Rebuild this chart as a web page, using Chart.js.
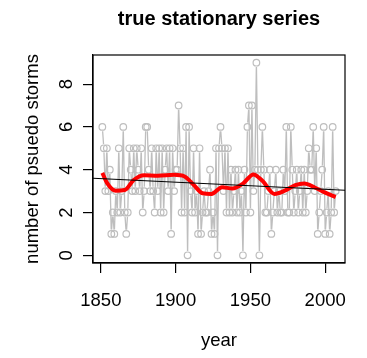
<!DOCTYPE html>
<html>
<head>
<meta charset="utf-8">
<title>true stationary series</title>
<script src="https://cdn.jsdelivr.net/npm/chart.js@4.4.1/dist/chart.umd.min.js"></script>
<style>
  html, body { margin: 0; padding: 0; background: #fff; }
  canvas { display: block; }
</style>
</head>
<body>
<canvas id="storms" width="367" height="358"></canvas>
<script>
// yearly counts of pseudo storms, 1851-2007
const firstYear = 1851;
const stormCounts = [
  6, 5, 3, 5, 3, 4, 1, 2, 1, 3,
  2, 5, 2, 3, 6, 2, 1, 2, 5, 4,
  3, 5, 3, 5, 4, 3, 5, 2, 3, 6,
  6, 4, 3, 5, 3, 2, 5, 3, 5, 2,
  5, 2, 4, 5, 3, 5, 1, 5, 3, 4,
  4, 7, 5, 2, 5, 2, 6, 0, 6, 3,
  2, 5, 2, 3, 1, 5, 1, 2, 3, 2,
  2, 3, 4, 1, 2, 1, 5, 0, 5, 6,
  5, 3, 5, 2, 5, 2, 4, 2, 3, 4,
  2, 4, 2, 3, 0, 4, 2, 6, 7, 2,
  7, 3, 4, 9, 4, 0, 4, 6, 4, 2,
  2, 3, 4, 1, 2, 3, 4, 2, 3, 2,
  2, 4, 3, 6, 2, 2, 6, 4, 2, 3,
  4, 2, 3, 4, 2, 4, 2, 3, 5, 4,
  4, 6, 3, 5, 1, 2, 3, 4, 6, 1, 2, 3, 1, 2, 6, 2, 3
];
const years = stormCounts.map((_, i) => firstYear + i);

// smoothed curve
const smoothYears = [1851, 1854, 1860, 1866, 1872, 1879, 1888, 1899, 1906, 1912, 1918, 1924, 1931, 1938, 1945, 1952, 1958, 1966, 1973, 1980, 1986, 1993, 2000, 2007];
const smoothValues = [3.85, 3.4, 3.02, 3.05, 3.52, 3.74, 3.72, 3.76, 3.68, 3.3, 2.9, 2.87, 3.18, 3.12, 3.35, 3.78, 3.48, 2.87, 3.02, 3.28, 3.36, 3.17, 2.93, 2.72];

// straight trend line across the panel
const trendYears = [1844.76, 2013.24];
const trendValues = [3.6, 3.04];

const xTicks = [1850, 1900, 1950, 2000];
const yTicks = [0, 2, 4, 6, 8];

const grey = "#bebebe";
const font = "Liberation Sans, Arial, sans-serif";

// R style "b" lines: segments stop short of each circle
const gappedLine = {
  id: "gappedLine",
  beforeDatasetDraw(chart, args) {
    if (args.index !== 0) return;
    const pts = args.meta.data;
    const ctx = chart.ctx;
    const gap = 4.3;
    ctx.save();
    ctx.strokeStyle = grey;
    ctx.lineWidth = 1.3;
    ctx.beginPath();
    for (let i = 0; i < pts.length - 1; i++) {
      const p = pts[i], q = pts[i + 1];
      const dx = q.x - p.x, dy = q.y - p.y;
      const len = Math.sqrt(dx * dx + dy * dy);
      if (len <= 2 * gap) continue;
      const ux = dx / len, uy = dy / len;
      ctx.moveTo(p.x + ux * gap, p.y + uy * gap);
      ctx.lineTo(q.x - ux * gap, q.y - uy * gap);
    }
    ctx.stroke();
    ctx.restore();
  }
};

// box, title, tick labels and axis titles
const frameAndText = {
  id: "frameAndText",
  afterDraw(chart) {
    const ctx = chart.ctx;
    const a = chart.chartArea;
    const xs = chart.scales.x, ys = chart.scales.y;
    ctx.save();
    ctx.strokeStyle = "#000";
    ctx.lineWidth = 1.2;
    ctx.strokeRect(a.left, a.top, a.right - a.left, a.bottom - a.top);

    ctx.fillStyle = "#000";
    ctx.textAlign = "center";
    ctx.textBaseline = "alphabetic";
    ctx.font = "bold 20px " + font;
    ctx.fillText("true stationary series", (a.left + a.right) / 2, 25);

    ctx.font = "18.5px " + font;
    xTicks.forEach(v => ctx.fillText(String(v), xs.getPixelForValue(v), 306));
    ctx.fillText("year", (a.left + a.right) / 2, 346);

    yTicks.forEach(v => {
      ctx.save();
      ctx.translate(72, ys.getPixelForValue(v));
      ctx.rotate(-Math.PI / 2);
      ctx.fillText(String(v), 0, 0);
      ctx.restore();
    });

    ctx.save();
    ctx.translate(38, (a.top + a.bottom) / 2);
    ctx.rotate(-Math.PI / 2);
    ctx.fillText("number of psuedo storms", 0, 0);
    ctx.restore();
    ctx.restore();
  }
};

const ctx = document.getElementById("storms").getContext("2d");

const chart = new Chart(ctx, {
  type: "scatter",
  data: {
    datasets: [
      {
        data: years.map((y, i) => ({ x: y, y: stormCounts[i] })),
        order: 2,
        showLine: false,
        pointStyle: "circle",
        pointRadius: 3.3,
        pointBorderWidth: 1.2,
        pointBorderColor: grey,
        pointBackgroundColor: "rgba(0,0,0,0)"
      },
      {
        data: smoothYears.map((y, i) => ({ x: y, y: smoothValues[i] })),
        order: 1,
        showLine: true,
        borderColor: "#ff0000",
        borderWidth: 4,
        cubicInterpolationMode: "monotone",
        pointRadius: 0
      },
      {
        data: trendYears.map((y, i) => ({ x: y, y: trendValues[i] })),
        order: 0,
        showLine: true,
        borderColor: "#000",
        borderWidth: 1.1,
        pointRadius: 0
      }
    ]
  },
  options: {
    responsive: false,
    animation: false,
    events: [],
    layout: { padding: { top: 55, right: 22, left: 0, bottom: 0 } },
    plugins: {
      legend: { display: false },
      title: { display: false },
      tooltip: { enabled: false }
    },
    scales: {
      x: {
        type: "linear",
        min: 1844.76,
        max: 2013.24,
        afterBuildTicks: s => { s.ticks = xTicks.map(v => ({ value: v })); },
        afterFit: s => { s.height = 95; },
        ticks: { display: false },
        grid: { drawOnChartArea: false, drawTicks: true, tickLength: 10, color: "#000", lineWidth: 1.2 },
        border: { display: true, color: "#000", width: 1.2 }
      },
      y: {
        type: "linear",
        min: -0.36,
        max: 9.36,
        afterBuildTicks: s => { s.ticks = yTicks.map(v => ({ value: v })); },
        afterFit: s => { s.width = 93; },
        ticks: { display: false },
        grid: { drawOnChartArea: false, drawTicks: true, tickLength: 10, color: "#000", lineWidth: 1.2 },
        border: { display: true, color: "#000", width: 1.2 }
      }
    }
  },
  plugins: [gappedLine, frameAndText]
});
</script>
</body>
</html>
